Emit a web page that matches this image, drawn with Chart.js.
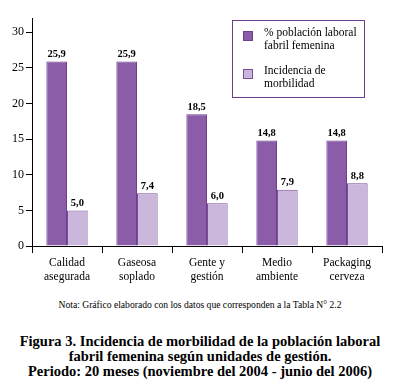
<!DOCTYPE html>
<html>
<head>
<meta charset="utf-8">
<script src="https://cdn.jsdelivr.net/npm/chart.js@4/dist/chart.umd.min.js"></script>
<style>
  html, body { margin:0; padding:0; background:#fff; }
  #wrap { position:relative; width:400px; height:392px; overflow:hidden; }
  #c { position:absolute; left:0; top:0; }
  .txt { position:absolute; left:0; width:400px; text-align:center; font-family:"Liberation Serif","DejaVu Serif",serif; color:#000; white-space:nowrap; }
  #note { top:298px; font-size:9.6px; line-height:14px; }
  #title { top:334px; font-size:14.5px; font-weight:bold; line-height:15px; }
</style>
</head>
<body>
<div id="wrap">
  <canvas id="c" width="400" height="292"></canvas>
  <div id="note" class="txt">Nota: Gráfico elaborado con los datos que corresponden a la Tabla N° 2.2</div>
  <div id="title" class="txt">Figura 3. Incidencia de morbilidad de la población laboral<br>fabril femenina según unidades de gestión.<br>Periodo: 20 meses (noviembre del 2004 - junio del 2006)</div>
</div>
<script>
const categories = [["Calidad","asegurada"],["Gaseosa","soplado"],["Gente y","gestión"],["Medio","ambiente"],["Packaging","cerveza"]];
const seriesNames = [["% población laboral","fabril femenina"],["Incidencia de","morbilidad"]];
const poblacion = [25.9, 25.9, 18.5, 14.8, 14.8];
const morbilidad = [5.0, 7.4, 6.0, 7.9, 8.8];
const yTicks = [0, 5, 10, 15, 20, 25, 30];

const darkFill = '#8B5CA8', darkBorder = '#6E3F8E';
const lightFill = '#CBB7DC', lightBorder = '#7A4F9A';
const serif = "'Liberation Serif', 'DejaVu Serif', serif";

const valueLabels = {
  id: 'valueLabels',
  afterDatasetsDraw(chart) {
    const ctx = chart.ctx;
    ctx.save();
    ctx.font = 'bold 10.5px ' + serif;
    ctx.fillStyle = '#000';
    ctx.textAlign = 'center';
    ctx.textBaseline = 'bottom';
    chart.data.datasets.forEach((ds, i) => {
      chart.getDatasetMeta(i).data.forEach((bar, j) => {
        ctx.fillText(ds.data[j].toFixed(1).replace('.', ','), bar.x, bar.y - 2);
      });
    });
    ctx.restore();
  }
};

const boxLegend = {
  id: 'boxLegend',
  afterDraw(chart) {
    const ctx = chart.ctx;
    ctx.save();
    ctx.strokeStyle = darkBorder;
    ctx.lineWidth = 1;
    ctx.strokeRect(232.5, 20.5, 132, 77);
    const items = [
      {fill: darkFill, border: darkBorder, y: 31},
      {fill: lightFill, border: lightBorder, y: 69}
    ];
    ctx.font = '11.5px ' + serif;
    ctx.textBaseline = 'middle';
    ctx.textAlign = 'left';
    items.forEach((it, i) => {
      ctx.fillStyle = it.fill;
      ctx.fillRect(243, it.y, 10, 10);
      ctx.strokeStyle = it.border;
      ctx.strokeRect(243.5, it.y + 0.5, 9, 9);
      ctx.fillStyle = '#000';
      seriesNames[i].forEach((line, k) => {
        ctx.fillText(line, 264, it.y + 2 + k * 13);
      });
    });
    ctx.restore();
  }
};

function build() {
new Chart(document.getElementById('c'), {
  type: 'bar',
  data: {
    labels: categories,
    datasets: [
      { label: seriesNames[0].join(' '), data: poblacion, backgroundColor: darkFill, borderColor: darkBorder, borderWidth: 1 },
      { label: seriesNames[1].join(' '), data: morbilidad, backgroundColor: lightFill, borderColor: lightBorder, borderWidth: 1 }
    ]
  },
  options: {
    responsive: false,
    animation: false,
    devicePixelRatio: 1,
    layout: { padding: { left: 0, right: 18, top: 18, bottom: 0 } },
    datasets: { bar: { categoryPercentage: 0.59, barPercentage: 1.0 } },
    plugins: { legend: { display: false }, tooltip: { enabled: false } },
    scales: {
      x: {
        grid: { display: true, drawOnChartArea: false, drawTicks: true, tickLength: 7, color: '#000', offset: true },
        border: { display: true, color: '#000', width: 1 },
        ticks: { color: '#000', font: { family: serif, size: 11.5 }, padding: 3, maxRotation: 0, autoSkip: false },
        afterFit(s) { s.height = 46; }
      },
      y: {
        min: 0, max: 32,
        grid: { display: true, drawOnChartArea: false, drawTicks: true, tickLength: 6, color: '#000' },
        border: { display: true, color: '#000', width: 1 },
        ticks: { color: '#000', font: { family: serif, size: 12 }, padding: 2 },
        afterBuildTicks(s) { s.ticks = yTicks.map(v => ({ value: v })); },
        afterFit(s) { s.width = 32; }
      }
    }
  },
  plugins: [valueLabels, boxLegend]
});
}
if (document.fonts && document.fonts.load) {
  Promise.all([
    document.fonts.load("12px 'Liberation Serif'"),
    document.fonts.load("bold 12px 'Liberation Serif'")
  ]).then(build, build);
} else { build(); }
</script>
</body>
</html>
